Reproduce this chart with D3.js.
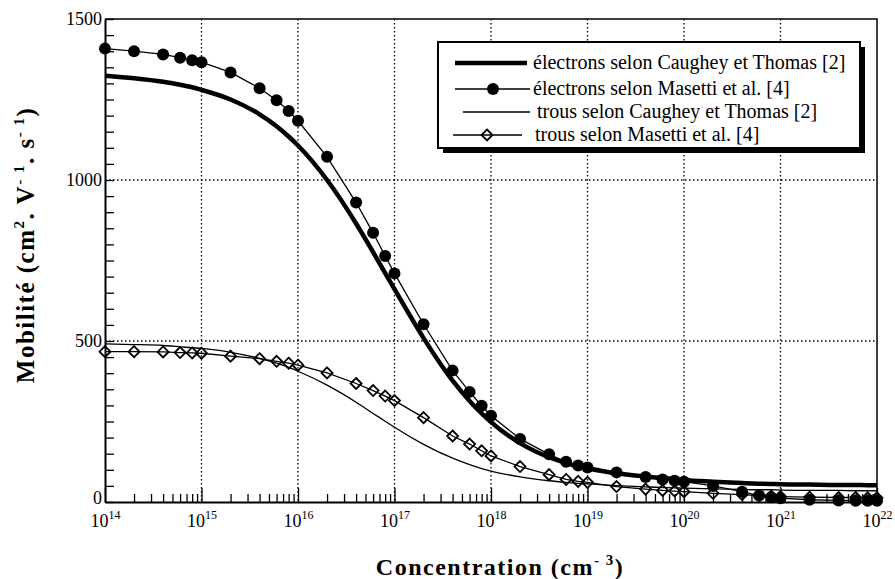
<!DOCTYPE html>
<html>
<head>
<meta charset="utf-8">
<script src="https://cdnjs.cloudflare.com/ajax/libs/d3/7.8.5/d3.min.js"></script>
<style>
  body { margin: 0; background: #fff; }
  svg { display: block; }
</style>
</head>
<body>
<div class="chart"></div>
<script>
// concentrations (cm-3) where the curves were read
var conc = [
  1e14, 2e14, 4e14, 6e14, 8e14,
  1e15, 2e15, 4e15, 6e15, 8e15,
  1e16, 2e16, 4e16, 6e16, 8e16,
  1e17, 2e17, 4e17, 6e17, 8e17,
  1e18, 2e18, 4e18, 6e18, 8e18,
  1e19, 2e19, 4e19, 6e19, 8e19,
  1e20, 2e20, 4e20, 6e20, 8e20,
  1e21, 2e21, 4e21, 6e21, 8e21,
  1e22
];

// mobilities (cm2/V/s)
var elecCaughey = [
  1324, 1316, 1305, 1296, 1288,
  1280, 1250, 1204, 1167, 1135,
  1107, 1000, 865, 776, 711,
  661, 509, 377, 314, 275,
  248, 183, 139, 121, 111,
  105, 89, 79, 74, 71,
  68, 63, 59, 57, 56,
  55, 54, 53, 53, 52,
  52
];
var elecMasetti = [
  1408, 1400, 1390, 1380, 1372,
  1366, 1334, 1285, 1248, 1214,
  1184, 1072, 930, 836, 764,
  710, 552, 408, 342, 299,
  268, 196, 148, 125, 113,
  107, 92, 78, 70, 66,
  63, 50, 32, 20, 15,
  12, 7, 5, 4, 4,
  4
];
var holeCaughey = [
  491, 489, 486, 482, 479,
  477, 465, 446, 431, 418,
  406, 363, 310, 275, 251,
  232, 179, 136, 116, 104,
  96, 78, 66, 61, 58,
  56, 51, 47, 45, 44,
  43, 41, 39, 38, 38,
  37, 36, 36, 35, 35,
  35
];
var holeMasetti = [
  467, 467, 466, 464, 463,
  462, 453, 445, 437, 431,
  425, 401, 368, 346, 329,
  315, 262, 205, 180, 159,
  143, 110, 85, 70, 64,
  61, 48, 40, 36, 34,
  32, 27, 23, 20, 18,
  17, 15, 14, 14, 13,
  13
];

var yTicks = [0, 500, 1000, 1500];
var legendLabels = [
  "électrons selon Caughey et Thomas [2]",
  "électrons selon Masetti et al. [4]",
  "trous selon Caughey et Thomas [2]",
  "trous selon Masetti et al. [4]"
];

var serif = "Liberation Serif, DejaVu Serif, Noto Serif, serif";

var margin = {top: 19, right: 18, bottom: 77, left: 105};
var width = 895 - margin.left - margin.right;
var height = 579 - margin.top - margin.bottom;

var root = d3.select('.chart')
  .append('svg')
  .attr('width', 895)
  .attr('height', 579)
  .style('font-family', serif);

var svg = root.append('g')
  .attr('transform', `translate(${margin.left}, ${margin.top})`);

var x = d3.scaleLog().domain([1e14, 1e22]).range([0, width]);
var y = d3.scaleLinear().domain([0, 1500]).range([height, 0]);

var isDecade = d => Math.abs(Math.log10(d) - Math.round(Math.log10(d))) < 1e-9;

// dotted grid
svg.append('g').selectAll('line')
  .data(x.ticks().filter(d => isDecade(d) && d > 1e14 && d < 1e22))
  .enter().append('line')
  .attr('x1', d => x(d)).attr('x2', d => x(d))
  .attr('y1', 0).attr('y2', height)
  .attr('stroke', '#000').attr('stroke-width', 1.3)
  .attr('stroke-dasharray', '1.5,2.5');

svg.append('g').selectAll('line')
  .data([500, 1000])
  .enter().append('line')
  .attr('x1', 0).attr('x2', width)
  .attr('y1', d => y(d)).attr('y2', d => y(d))
  .attr('stroke', '#000').attr('stroke-width', 1.3)
  .attr('stroke-dasharray', '1.5,2.5');

// frame (top and right)
svg.append('path')
  .attr('d', `M0,0H${width}V${height}`)
  .attr('fill', 'none').attr('stroke', '#000').attr('stroke-width', 1.5);

// y axis
var yAxis = svg.append('g')
  .call(d3.axisLeft(y)
    .tickValues(d3.range(0, 1501, 50))
    .tickSizeInner(-9).tickSizeOuter(0).tickPadding(3)
    .tickFormat(d => yTicks.indexOf(d) >= 0 ? d : ''))
  .attr('font-family', null);
yAxis.select('.domain').attr('stroke-width', 2);
yAxis.selectAll('.tick line').attr('stroke-width', 1.3);
yAxis.selectAll('.tick text')
  .attr('font-size', 18).attr('fill', '#000')
  .attr('dy', d => d === 0 ? '0.1em' : '0.32em');

// x axis
var xAxis = svg.append('g')
  .attr('transform', `translate(0, ${height})`)
  .call(d3.axisBottom(x)
    .tickValues(x.ticks())
    .tickSizeInner(-8).tickSizeOuter(0).tickPadding(12)
    .tickFormat(() => ''))
  .attr('font-family', null);
xAxis.select('.domain').attr('stroke-width', 2);
xAxis.selectAll('.tick line')
  .attr('stroke-width', 1.3)
  .attr('y2', d => isDecade(d) ? -14 : -8);
xAxis.selectAll('.tick').filter(d => isDecade(d)).select('text')
  .attr('font-size', 18).attr('fill', '#000')
  .text('10')
  .append('tspan')
  .attr('dy', -8).attr('font-size', 12)
  .text(d => Math.round(Math.log10(d)));

// curves
var line = d3.line()
  .x(d => x(d[0]))
  .y(d => y(d[1]));

var pairs = vals => conc.map((c, i) => [c, vals[i]]);

svg.append('path')
  .datum(pairs(holeCaughey))
  .attr('d', line.curve(d3.curveMonotoneX))
  .attr('fill', 'none').attr('stroke', '#000').attr('stroke-width', 1.3);

svg.append('path')
  .datum(pairs(elecCaughey))
  .attr('d', line.curve(d3.curveMonotoneX))
  .attr('fill', 'none').attr('stroke', '#000').attr('stroke-width', 4.5);

svg.append('path')
  .datum(pairs(holeMasetti))
  .attr('d', line.curve(d3.curveLinear))
  .attr('fill', 'none').attr('stroke', '#000').attr('stroke-width', 1.3);

svg.append('path')
  .datum(pairs(elecMasetti))
  .attr('d', line.curve(d3.curveLinear))
  .attr('fill', 'none').attr('stroke', '#000').attr('stroke-width', 1.3);

var diamond = 'M0,-5.5L5.5,0L0,5.5L-5.5,0Z';

svg.append('g').selectAll('path')
  .data(pairs(holeMasetti))
  .enter().append('path')
  .attr('d', diamond)
  .attr('transform', d => `translate(${x(d[0])}, ${y(d[1])})`)
  .attr('fill', 'none').attr('stroke', '#000').attr('stroke-width', 1.8);

svg.append('g').selectAll('circle')
  .data(pairs(elecMasetti))
  .enter().append('circle')
  .attr('cx', d => x(d[0])).attr('cy', d => y(d[1]))
  .attr('r', 6).attr('fill', '#000');

// axis titles (the scan shows wide letter spacing)
var xTitle = root.append('text')
  .attr('x', 500).attr('y', 575)
  .attr('text-anchor', 'middle')
  .attr('font-size', 24).attr('font-weight', 'bold')
  .attr('letter-spacing', 1.5);
xTitle.append('tspan').text('Concentration (cm');
xTitle.append('tspan').attr('dy', -10).attr('font-size', 15).text('- 3');
xTitle.append('tspan').attr('dy', 10).text(')');

var yTitle = root.append('text')
  .attr('transform', 'translate(34, 245) rotate(-90)')
  .attr('text-anchor', 'middle')
  .attr('font-size', 25).attr('font-weight', 'bold')
  .attr('letter-spacing', 1.5);
yTitle.append('tspan').text('Mobilité (cm');
yTitle.append('tspan').attr('dy', -10).attr('font-size', 15).text('2');
yTitle.append('tspan').attr('dy', 10).text('. V');
yTitle.append('tspan').attr('dy', -10).attr('font-size', 15).text('- 1');
yTitle.append('tspan').attr('dy', 10).text('. s');
yTitle.append('tspan').attr('dy', -10).attr('font-size', 15).text('- 1');
yTitle.append('tspan').attr('dy', 10).text(')');

// legend
var legend = root.append('g').attr('transform', 'translate(438, 42)');
legend.append('rect')
  .attr('x', 5).attr('y', 5).attr('width', 422).attr('height', 106)
  .attr('fill', '#000');
legend.append('rect')
  .attr('x', 0).attr('y', 0).attr('width', 422).attr('height', 106)
  .attr('fill', '#fff').attr('stroke', '#000').attr('stroke-width', 2);

var rowY = [21, 47, 70, 93];
var rowLine = [[17, 89, 4.5], [17, 92, 1.3], [25, 92, 1.3], [15, 84, 1.3]];
var rowText = [95, 95, 99, 97];

legend.selectAll('line.key')
  .data(rowLine)
  .enter().append('line')
  .attr('class', 'key')
  .attr('x1', d => d[0]).attr('x2', d => d[1])
  .attr('y1', (d, i) => rowY[i]).attr('y2', (d, i) => rowY[i])
  .attr('stroke', '#000').attr('stroke-width', d => d[2]);

legend.append('circle')
  .attr('cx', 55).attr('cy', rowY[1]).attr('r', 6).attr('fill', '#000');
legend.append('path')
  .attr('d', diamond)
  .attr('transform', `translate(49, ${rowY[3]})`)
  .attr('fill', 'none').attr('stroke', '#000').attr('stroke-width', 1.8);

legend.selectAll('text')
  .data(legendLabels)
  .enter().append('text')
  .attr('x', (d, i) => rowText[i])
  .attr('y', (d, i) => rowY[i] + 6)
  .attr('font-size', 20)
  .text(d => d);
</script>
</body>
</html>
